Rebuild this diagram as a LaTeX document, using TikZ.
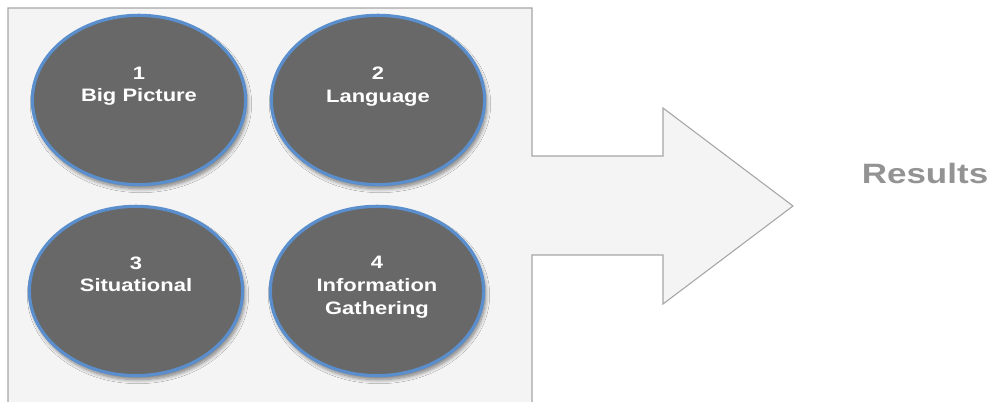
\documentclass[tikz,border=0pt]{standalone}
\usepackage{fontspec}
\setmainfont{Liberation Sans}
\usetikzlibrary{shapes.geometric,shadows.blur}
\definecolor{panel}{HTML}{F4F4F4}
\definecolor{edge}{HTML}{A6A6A6}
\definecolor{disc}{HTML}{686868}
\definecolor{rim}{HTML}{5A8ECC}
\definecolor{restext}{HTML}{939393}
\begin{document}
\begin{tikzpicture}[x=0.75pt, y=-0.75pt,
		topic/.style={ellipse, draw=rim, line width=2.4pt, fill=disc, minimum width=160pt, minimum height=127pt, inner sep=0pt,
				blur shadow={shadow xshift=1.5pt, shadow yshift=-3pt, shadow opacity=50, shadow blur steps=8, shadow blur radius=3pt}},
		topictext/.style={text=white, font=\bfseries\fontsize{13.5}{17}\selectfont, align=center, anchor=north, inner sep=0pt, xscale=1.22, transform shape}]
	\useasboundingbox (0,0) rectangle (993,402);
	% panel with the arrow
	\fill[panel] (8,402) -- (8,8) -- (532,8) -- (532,156) -- (663,156) -- (663,108) -- (793,206) -- (663,304) -- (663,255) -- (532,255) -- (532,402) -- cycle;
	\draw[edge, line width=0.8pt] (8,402) -- (8,8) -- (532,8) -- (532,156) -- (663,156) -- (663,108) -- (793,206) -- (663,304) -- (663,255) -- (532,255) -- (532,402);
	% the four topics
	\node[topic] (big)  at (139,100) {};
	\node[topic] (lang) at (378,100) {};
	\node[topic] (sit)  at (136,291) {};
	\node[topic] (info) at (377,291) {};
	\node[topictext] (bigtxt)  at ([yshift=25pt]big.center)  {1\\Big Picture};
	\node[topictext] (langtxt) at ([yshift=25pt]lang.center) {2\\Language};
	\node[topictext] (sittxt)  at ([yshift=26pt]sit.center)  {3\\Situational};
	\node[topictext] (infotxt) at ([yshift=26pt]info.center) {4\\Information\\Gathering};
	\node[text=restext, font=\bfseries\fontsize{21}{25}\selectfont, xscale=1.25, transform shape] (res) at (925,173) {Results};
\end{tikzpicture}
\end{document}
